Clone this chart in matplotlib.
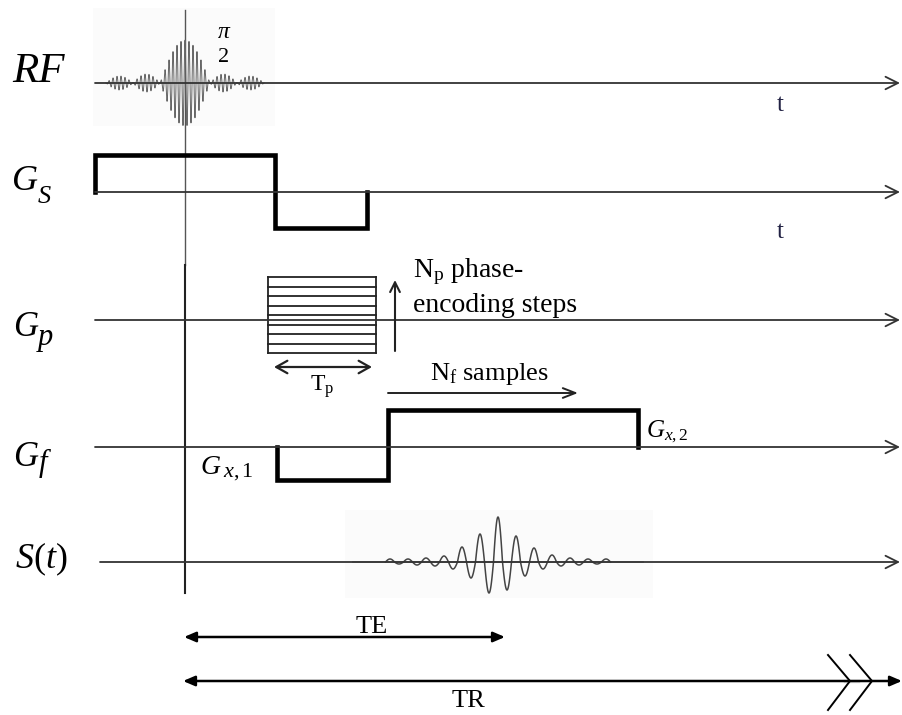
import numpy as np
import matplotlib.pyplot as plt

plt.rcParams['font.family'] = ['Liberation Serif', 'DejaVu Serif']
plt.rcParams['mathtext.fontset'] = 'custom'
plt.rcParams['mathtext.rm'] = 'Liberation Serif'
plt.rcParams['mathtext.it'] = 'Liberation Serif:italic'
plt.rcParams['mathtext.bf'] = 'Liberation Serif:bold'

# time axis runs left->right in pixel-ish units, amplitudes are up from each baseline
t_excite = 185          # centre of the pi/2 pulse
t_echo = 498            # centre of the echo
t_end = 900

# RF sinc pulse: lobe edges and lobe amplitudes
rf_edges = [106, 133, 160, 210, 237, 264]
rf_lobes = [7, 9, 43, 9, 7]
rf_period = 4

# slice select gradient
gs_t = [95, 95, 275, 275, 367, 367]
gs_amp = [0, 37, 37, -36, -36, 0]

# phase encoding table
gp_t = [268, 376]
gp_amp = [43, 33.5, 24, 14.5, 5, -4.5, -14, -23.5, -33]

# frequency encoding gradient
gf_t = [277, 277, 388, 388, 638, 638]
gf_amp = [0, -33, -33, 37, 37, 0]

# echo signal: half-cycle extrema around the echo centre
echo_half = 9
echo_peaks = [3, -2, 3, -3, 4, -4, 6, -7, 15, -16, 28, -31, 45,
              -28, 26, -14, 14, -7, 7, -4, 4, -3, 3, -2, 3]
echo_span = [353, 643]

# timing arrows
te_t = [184, 505]
tr_t = [183, 902]

base = {'RF': 83, 'GS': 192, 'GP': 320, 'GF': 447, 'S': 562}

fig = plt.figure(figsize=(9.02, 7.15), dpi=100)
ax = fig.add_axes([0, 0, 1, 1])
ax.set_xlim(0, 902)
ax.set_ylim(715, 0)
ax.axis('off')

# faint pasted-image backgrounds
ax.add_patch(plt.Rectangle((93, 8), 182, 118, color='#fbfbfb', lw=0, zorder=0))
ax.add_patch(plt.Rectangle((345, 510), 308, 88, color='#fbfbfb', lw=0, zorder=0))

# time axes with open arrow heads
starts = {'RF': 95, 'GS': 95, 'GP': 95, 'GF': 95, 'S': 100}
for k in base:
    ax.annotate('', xy=(t_end, base[k]), xytext=(starts[k], base[k]),
                arrowprops=dict(arrowstyle='->,head_length=0.9,head_width=0.45',
                                lw=1.3, color='#333333', shrinkA=0, shrinkB=0))

# vertical reference line at the excitation
ax.plot([t_excite, t_excite], [10, 265], color='#555555', lw=1.0)
ax.plot([t_excite, t_excite], [265, 593], color='#222222', lw=1.5)

# RF pulse
for i in range(len(rf_lobes)):
    e0, e1 = rf_edges[i], rf_edges[i + 1]
    x = np.linspace(e0, e1, 400)
    env = rf_lobes[i] * np.sin(np.pi * (x - e0) / (e1 - e0))
    y = env * np.cos(2 * np.pi * (x - t_excite) / rf_period)
    ax.plot(x, base['RF'] - y, color='#666666', lw=0.7)
ax.text(12, 72, 'RF', fontsize=31, style='italic', va='center', ha='left')
ax.text(224, 33, r'$\pi$', fontsize=17, ha='center', va='center')
ax.text(224, 57, '2', fontsize=16, ha='center', va='center')
ax.text(780, 105, 't', fontsize=18, ha='center', va='center', color='#222244')

# slice select
ax.plot(gs_t, [base['GS'] - a for a in gs_amp], color='black', lw=3.3,
        solid_joinstyle='miter')
ax.text(12, 182, 'G', fontsize=26, style='italic', va='center', ha='left')
ax.text(38, 197, 'S', fontsize=19, style='italic', va='center', ha='left')
ax.text(780, 232, 't', fontsize=18, ha='center', va='center', color='#222244')

# phase encoding table
for a in gp_amp:
    ax.plot(gp_t, [base['GP'] - a] * 2, color='#222222', lw=1.3)
for tt in gp_t:
    ax.plot([tt, tt], [base['GP'] - gp_amp[0], base['GP'] - gp_amp[-1]],
            color='#222222', lw=1.3)
ax.annotate('', xy=(395, 280), xytext=(395, 351),
            arrowprops=dict(arrowstyle='->,head_length=0.7,head_width=0.35',
                            lw=1.5, color='#222222', shrinkA=0, shrinkB=0))
ax.text(413, 272, r'N$_\mathrm{p}$ phase-', fontsize=20, va='center', ha='left')
ax.text(413, 305, 'encoding steps', fontsize=20, va='center', ha='left')
ax.annotate('', xy=(274, 367), xytext=(372, 367),
            arrowprops=dict(arrowstyle='<->,head_length=0.8,head_width=0.45',
                            lw=1.6, color='#222222', shrinkA=0, shrinkB=0))
ax.text(322, 387, r'T$_\mathrm{p}$', fontsize=17, ha='center', va='center')
ax.text(13, 328, 'G', fontsize=25, style='italic', va='center', ha='left')
ax.text(38, 337, 'p', fontsize=22, style='italic', va='center', ha='left')

# frequency encoding
ax.plot(gf_t, [base['GF'] - a for a in gf_amp], color='black', lw=3.3,
        solid_joinstyle='miter')
ax.annotate('', xy=(578, 393), xytext=(388, 393),
            arrowprops=dict(arrowstyle='->,head_length=0.9,head_width=0.35',
                            lw=1.4, color='#222222', shrinkA=0, shrinkB=0))
ax.text(430, 374, r'N$_\mathrm{f}$ samples', fontsize=19, va='center', ha='left')
ax.text(13, 457, 'G', fontsize=25, style='italic', va='center', ha='left')
ax.text(39, 463, 'f', fontsize=22, style='italic', va='center', ha='left')
ax.text(200, 468, r'$G$', fontsize=20, va='center', ha='left')
ax.text(223, 472, r'$x,1$', fontsize=16, va='center', ha='left')
ax.text(646, 432, r'$G_{x,2}$', fontsize=18, va='center', ha='left')

# echo signal
ax.plot(echo_span, [base['S']] * 2, color='#888888', lw=1.2)
n = len(echo_peaks)
for i, a in enumerate(echo_peaks):
    xc = t_echo + (i - n // 2) * echo_half
    x = np.linspace(xc - echo_half / 2, xc + echo_half / 2, 40)
    y = a * np.sin(np.pi * (x - (xc - echo_half / 2)) / echo_half)
    ax.plot(x, base['S'] - y, color='#444444', lw=1.1)
ax.text(15, 559, r'$S(t)$', fontsize=26, va='center', ha='left')

# TE and TR
ax.annotate('', xy=(te_t[1], 637), xytext=(te_t[0], 637),
            arrowprops=dict(arrowstyle='<|-|>,head_length=0.7,head_width=0.3',
                            lw=1.8, color='black', shrinkA=0, shrinkB=0))
ax.text(372, 627, 'TE', fontsize=19, ha='center', va='center')
ax.annotate('', xy=(tr_t[1], 681), xytext=(tr_t[0], 681),
            arrowprops=dict(arrowstyle='<|-|>,head_length=0.7,head_width=0.3',
                            lw=1.8, color='black', shrinkA=0, shrinkB=0))
ax.text(468, 701, 'TR', fontsize=19, ha='center', va='center')
ax.plot([845, 858], [681, 681], color='#dddddd', lw=2.5)
for x0 in [828, 850]:
    ax.plot([x0, x0 + 22, x0], [655, 681, 710], color='black', lw=1.4)

fig.savefig('out.png', dpi=100)
